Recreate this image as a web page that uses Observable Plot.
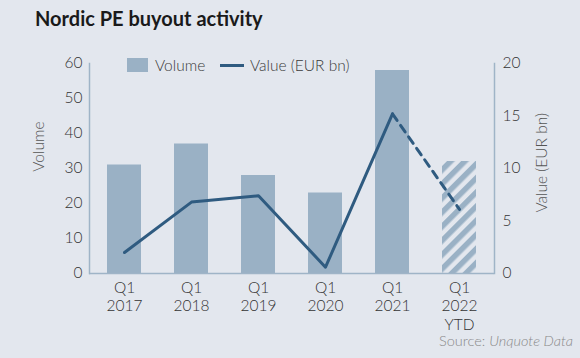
<!DOCTYPE html>
<html><head><meta charset="utf-8">
<script src="https://cdn.jsdelivr.net/npm/d3@7"></script>
<script src="https://cdn.jsdelivr.net/npm/@observablehq/plot@0.6"></script>
<style>
body{margin:0;background:#e3e7ee;font-family:Lato,sans-serif;}
#wrap{position:relative;width:580px;height:358px;overflow:hidden;background:#e3e7ee;}
#chart{position:absolute;left:0;top:0;}
.ov{position:absolute;line-height:1;white-space:nowrap;}
#title{left:35px;top:8px;font-size:20px;font-weight:bold;color:#1a1a1a;}
.legtxt{font-size:15.5px;color:#3a3a3a;font-weight:300;}
.axlab{font-size:15.5px;color:#555;transform-origin:center;font-weight:300;}
#source{right:7px;top:334px;font-size:14.5px;color:#8a8a8a;font-weight:300;}
</style>
</head><body>
<div id="wrap">
  <div id="chart"></div>
  <div class="ov" id="title">Nordic PE buyout activity</div>
  <div class="ov" style="left:127px;top:58px;width:21px;height:14px;background:#9ab1c5"></div>
  <div class="ov legtxt" style="left:155px;top:58px;">Volume</div>
  <div class="ov" style="left:220px;top:64px;width:24px;height:3px;background:#2f5b80"></div>
  <div class="ov legtxt" style="left:250px;top:58px;">Value (EUR bn)</div>
  <div class="ov axlab" id="ylab" style="left:14px;top:139px;width:50px;text-align:center;transform:rotate(-90deg);">Volume</div>
  <div class="ov axlab" id="y2lab" style="left:492px;top:155px;width:100px;text-align:center;transform:rotate(-90deg);">Value (EUR bn)</div>
  <div class="ov" id="source">Source: <i>Unquote Data</i></div>
</div>
<script>
const categories = ["Q1 2017","Q1 2018","Q1 2019","Q1 2020","Q1 2021","Q1 2022 YTD"];
const tickLabels = ["Q1\n2017","Q1\n2018","Q1\n2019","Q1\n2020","Q1\n2021","Q1\n2022\nYTD"];
const volume = [31, 37, 28, 23, 58, 32];
const valueEURbn = [2.0, 6.8, 7.4, 0.6, 15.2, 6.1];
const ytd = [false, false, false, false, false, true];
const volumeTicks = [0, 10, 20, 30, 40, 50, 60];
const valueTicks = [0, 5, 10, 15, 20];

const ratio = 60 / 20;
const barColor = "#9ab1c5";
const lineColor = "#2f5b80";
const axisColor = "#9fb4c7";

const rows = categories.map((c, i) => ({cat: c, volume: volume[i], value: valueEURbn[i], ytd: ytd[i], i}));

const chart = Plot.plot({
  width: 580,
  height: 358,
  marginLeft: 89,
  marginRight: 86,
  marginTop: 63,
  marginBottom: 85,
  style: {background: "transparent", fontFamily: "Lato, sans-serif", fontSize: "15.5px", fontWeight: 300, color: "#333", overflow: "visible"},
  x: {domain: categories, paddingInner: 0.5, paddingOuter: 0.25, axis: null},
  y: {domain: [0, 60], axis: null},
  marks: [
    Plot.barY(rows.filter(d => !d.ytd), {x: "cat", y: "volume", fill: barColor}),
    Plot.barY(rows.filter(d => d.ytd), {x: "cat", y: "volume", fill: "url(#hatch)"}),
    Plot.line(rows.filter(d => d.i <= 4), {x: "cat", y: d => d.value * ratio, stroke: lineColor, strokeWidth: 3}),
    Plot.line(rows.filter(d => d.i >= 4), {x: "cat", y: d => d.value * ratio, stroke: lineColor, strokeWidth: 3, strokeDasharray: "8,6"}),
    Plot.frame({anchor: "left", stroke: axisColor, strokeWidth: 1.5}),
    Plot.frame({anchor: "right", stroke: axisColor, strokeWidth: 1.5}),
    Plot.ruleY([0], {stroke: axisColor, strokeWidth: 1.5}),
    Plot.axisY({anchor: "left", ticks: volumeTicks, tickSize: 0, tickPadding: 7, label: null, fontSize: 15.5}),
    Plot.axisY({anchor: "right", ticks: valueTicks.map(v => v * ratio), tickFormat: d => String(d / ratio), tickSize: 0, tickPadding: 8, label: null, fontSize: 15.5}),
    Plot.axisX({anchor: "bottom", tickFormat: d => tickLabels[categories.indexOf(d)], tickSize: 0, tickPadding: 6, lineHeight: 1.2, label: null, fontSize: 15.5})
  ]
});

chart.insertAdjacentHTML("afterbegin",
  '<defs><pattern id="hatch" patternUnits="userSpaceOnUse" width="10" height="10" patternTransform="rotate(45)">' +
  '<rect x="0" y="0" width="5.5" height="10" fill="' + barColor + '"></rect></pattern></defs>');

document.getElementById("chart").appendChild(chart);
</script>
</body></html>
